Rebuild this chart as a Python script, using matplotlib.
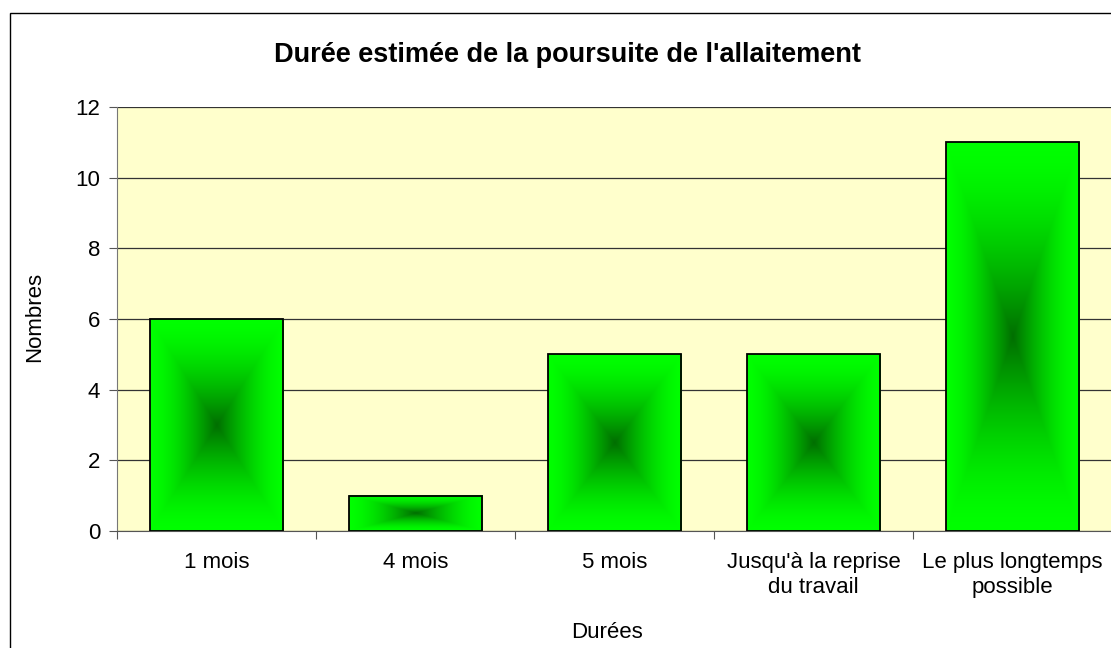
import numpy as np
import matplotlib
matplotlib.use("Agg")
import matplotlib.pyplot as plt
from matplotlib.patches import Rectangle

categories = ["1 mois", "4 mois", "5 mois", "Jusqu'à la reprise\ndu travail", "Le plus longtemps\npossible"]
values = [6, 1, 5, 5, 11]
yticks = [0, 2, 4, 6, 8, 10, 12]
title = "Durée estimée de la poursuite de l'allaitement"
xlabel = "Durées"
ylabel = "Nombres"

plt.rcParams['font.family'] = ['Liberation Sans', 'DejaVu Sans']

W, H = 1111, 648
fig = plt.figure(figsize=(W / 100, H / 100), dpi=100)
fig.patch.set_facecolor('white')

# outer chart border (cut off on right and bottom)
fig.patches.append(Rectangle((10 / W, -0.05), 1.2, 1 - 13 / H + 0.05, transform=fig.transFigure,
                             fill=False, edgecolor='black', lw=1.0))

ax = fig.add_axes([117 / W, (H - 531) / H, (1112 - 117) / W, (531 - 107) / H])
ax.set_facecolor('#FFFFCC')

x = np.arange(len(categories))
bars = ax.bar(x, values, width=0.673, color='none', edgecolor='black', lw=1.3, zorder=4)

# rectangular "from centre" gradient
n = 301
u = np.linspace(-1, 1, n)
U, V = np.meshgrid(u, u)
t = np.maximum(np.abs(U), np.abs(V))
f = 1 - (1 - t) ** 1.6
center = np.array([0, 110, 0]) / 255
edge = np.array([0, 255, 0]) / 255
img = center[None, None, :] + (edge - center)[None, None, :] * f[..., None]
for b in bars:
    x0, y0 = b.get_x(), b.get_y()
    w, h = b.get_width(), b.get_height()
    ax.imshow(img, extent=[x0, x0 + w, y0, y0 + h], aspect='auto', zorder=3,
              interpolation='bilinear', origin='lower')

fs = 16
ax.set_xlim(-0.5, len(categories) - 0.5)
ax.set_ylim(0, 12)
ax.set_yticks(yticks)
ax.set_yticklabels([str(v) for v in yticks], fontsize=fs)
ax.yaxis.grid(True, color='#333333', lw=0.9, zorder=1)
ax.set_axisbelow(True)

ax.set_xticks(np.arange(-0.5, len(categories), 1.0))
ax.set_xticklabels([])
ax.set_xticks(x, minor=True)
ax.set_xticklabels(categories, minor=True, fontsize=fs, ha='center', va='top', linespacing=1.25)
ax.tick_params(axis='x', which='minor', length=0, pad=15)
ax.tick_params(axis='x', which='major', length=6, color='#555555', direction='out')
ax.tick_params(axis='y', length=6, color='#555555', direction='out', pad=6)

for s in ['top', 'right']:
    ax.spines[s].set_visible(False)
ax.spines['left'].set_color('#777777')
ax.spines['bottom'].set_color('#555555')

fig.text(567 / W, 1 - 55 / H, title, ha='center', va='center', fontsize=19.5, fontweight='bold')
fig.text(607 / W, 1 - 633 / H, xlabel, ha='center', va='center', fontsize=fs)
fig.text(35 / W, 1 - 317 / H, ylabel, ha='center', va='center', fontsize=fs, rotation=90)

fig.savefig('out.png', dpi=100)
